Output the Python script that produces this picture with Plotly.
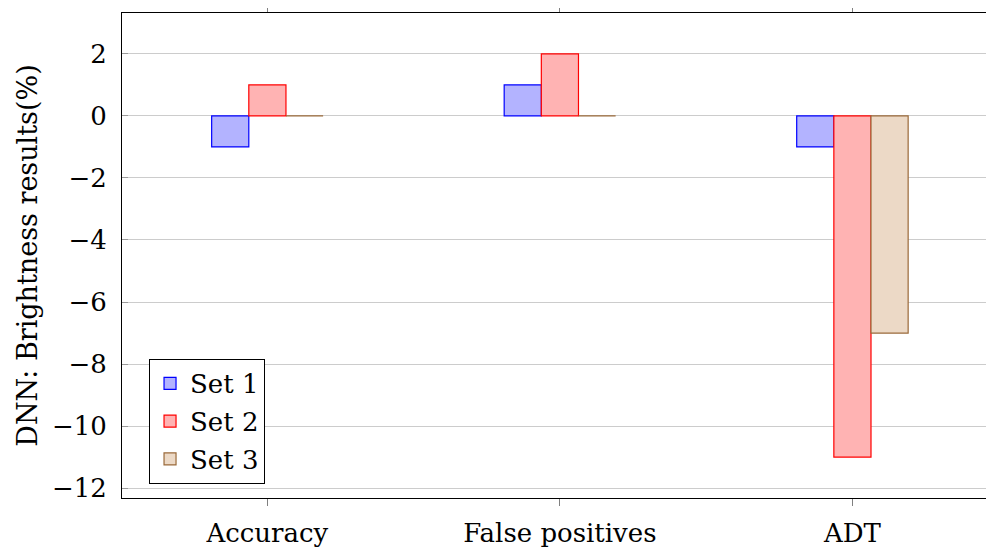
import plotly.graph_objects as go

categories = ["Accuracy", "False positives", "ADT"]
set1 = [-1, 1, -1]
set2 = [1, 2, -11]
set3 = [0, 0, -7]
series_names = ["Set 1", "Set 2", "Set 3"]
y_ticks = [2, 0, -2, -4, -6, -8, -10, -12]

fills = ["#b3b3ff", "#ffb3b3", "#ecd9c6"]
edges = ["#0000ff", "#ff0000", "#9a6a3a"]

FONT = "DejaVu Serif, serif"

fig = go.Figure()
for name, vals, fc, ec in zip(series_names, [set1, set2, set3], fills, edges):
    fig.add_trace(go.Bar(
        x=list(range(len(categories))), y=vals, name=name, legendgroup=name,
        marker=dict(color=fc, line=dict(color=ec, width=1.2)),
    ))

# the page body adds an 8px offset; margins compensate for it
fig.update_layout(
    width=994, height=552,
    margin=dict(l=114, r=8, t=5, b=62, autoexpand=False),
    paper_bgcolor="white", plot_bgcolor="white",
    barmode="group", bargap=0.619, bargroupgap=0,
    font=dict(family=FONT, size=26, color="black"),
    legend=dict(
        x=0.031, y=0.029, xanchor="left", yanchor="bottom",
        bgcolor="white", bordercolor="black", borderwidth=1,
        font=dict(family=FONT, size=26), traceorder="grouped",
        itemwidth=30, tracegroupgap=1,
    ),
    xaxis=dict(
        range=[-0.497, 2.484], tickmode="array",
        tickvals=list(range(len(categories))), ticktext=categories,
        showgrid=False, zeroline=False, automargin=False,
        showline=True, linecolor="black", linewidth=1, mirror="ticks",
        ticks="outside", ticklen=7, tickcolor="#808080", tickwidth=1,
        tickfont=dict(family=FONT, size=26), ticklabelstandoff=5,
    ),
    yaxis=dict(
        range=[-12.32, 3.32], tickmode="array", tickvals=y_ticks,
        showgrid=True, gridcolor="#cccccc", gridwidth=1, zeroline=False,
        showline=True, linecolor="black", linewidth=1, automargin=False,
        ticks="inside", ticklen=6, tickcolor="#999999",
        tickfont=dict(family=FONT, size=26), ticklabelstandoff=9,
        title=dict(text="DNN: Brightness results(%)", font=dict(family=FONT, size=27), standoff=6),
    ),
)

fig.write_html("out.html")
